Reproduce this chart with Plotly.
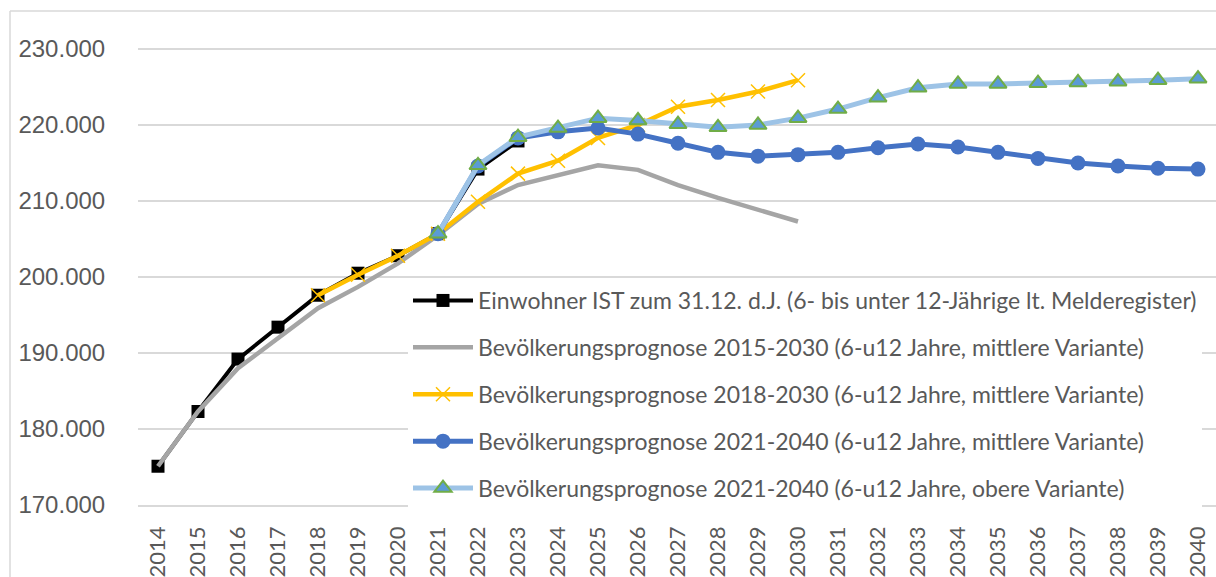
import plotly.graph_objects as go

years = list(range(2014, 2041))

ist_years = list(range(2014, 2024))
ist_vals = [175100, 182300, 189200, 193400, 197600, 200500, 202800, 205700, 214200, 217900]

p2015_years = list(range(2014, 2031))
p2015_vals = [175100, 182300, 188000, 191900, 195900, 198700, 201800, 205500, 209600, 212100,
              213400, 214700, 214100, 212100, 210400, 208800, 207300]

p2018_years = list(range(2018, 2031))
p2018_vals = [197600, 200300, 202800, 205700, 209900, 213600, 215300, 218300, 220000, 222400,
              223300, 224400, 225900]

p2021m_years = list(range(2021, 2041))
p2021m_vals = [205700, 214600, 218300, 219100, 219600, 218800, 217600, 216400, 215900, 216100,
               216400, 217000, 217500, 217100, 216400, 215600, 215000, 214600, 214300, 214200]

p2021o_years = list(range(2021, 2041))
p2021o_vals = [205700, 214700, 218400, 219600, 220900, 220600, 220100, 219700, 220000, 220900,
               222100, 223600, 224900, 225400, 225400, 225500, 225600, 225700, 225900, 226100]

names = [
    "Einwohner IST zum 31.12. d.J. (6- bis unter 12-Jährige lt. Melderegister)",
    "Bevölkerungsprognose 2015-2030 (6-u12 Jahre, mittlere Variante)",
    "Bevölkerungsprognose 2018-2030 (6-u12 Jahre, mittlere Variante)",
    "Bevölkerungsprognose 2021-2040 (6-u12 Jahre, mittlere Variante)",
    "Bevölkerungsprognose 2021-2040 (6-u12 Jahre, obere Variante)",
]

y_ticks = [170000, 180000, 190000, 200000, 210000, 220000, 230000]
y_ticktext = ["170.000", "180.000", "190.000", "200.000", "210.000", "220.000", "230.000"]

fig = go.Figure()
fig.add_trace(go.Scatter(x=ist_years, y=ist_vals, name=names[0], mode="lines+markers",
                         line=dict(color="#000000", width=4),
                         marker=dict(symbol="square", size=13, color="#000000"),
                         legendgroup="a"))
fig.add_trace(go.Scatter(x=p2015_years, y=p2015_vals, name=names[1], mode="lines",
                         line=dict(color="#a5a5a5", width=4.5), legendgroup="b"))
fig.add_trace(go.Scatter(x=p2018_years, y=p2018_vals, name=names[2], mode="lines+markers",
                         line=dict(color="#ffc000", width=4.5),
                         marker=dict(symbol="x-thin", size=14, color="#ffc000",
                                     line=dict(color="#ffc000", width=1.5)),
                         legendgroup="c"))
fig.add_trace(go.Scatter(x=p2021m_years, y=p2021m_vals, name=names[3], mode="lines+markers",
                         line=dict(color="#4472c4", width=5),
                         marker=dict(symbol="circle", size=15, color="#4472c4"),
                         legendgroup="d"))
fig.add_trace(go.Scatter(x=p2021o_years, y=p2021o_vals, name=names[4], mode="lines+markers",
                         line=dict(color="#9dc3e6", width=5),
                         marker=dict(symbol="triangle-up", size=15, color="#5b9bd5",
                                     line=dict(color="#70ad47", width=2)),
                         legendgroup="e"))

W, H = 1216, 577
L, R, T, B = 138, 0, 11, 72
pw = W - L - R
ph = H - T - B

fig.update_layout(
    width=W, height=H,
    margin=dict(l=L, r=R, t=T, b=B, autoexpand=False),
    paper_bgcolor="white", plot_bgcolor="white",
    showlegend=True,
    legend=dict(x=(408 - L) / pw, xanchor="left", y=(H - B - 279) / ph, yanchor="top",
                bgcolor="white", borderwidth=0, tracegroupgap=14, itemwidth=60,
                font=dict(family="Lato", size=23, color="#595959"),
                traceorder="grouped"),
    xaxis=dict(range=[2013.5, 2013.5 + pw / 40.0], tickvals=years, ticktext=[str(y) for y in years],
               tickangle=-90, showgrid=False, zeroline=False, automargin=False,
               showline=True, linecolor="#d9d9d9", linewidth=1.5,
               ticks="outside", ticklen=11, tickcolor="rgba(0,0,0,0)",
               tickfont=dict(family="Lato", size=22, color="#595959")),
    yaxis=dict(range=[170000, 235000], tickvals=y_ticks, ticktext=y_ticktext,
               showgrid=True, gridcolor="#d9d9d9", gridwidth=1.5, zeroline=False, automargin=False,
               ticks="outside", ticklen=27, tickcolor="rgba(0,0,0,0)",
               tickfont=dict(family="Liberation Sans", size=24, color="#595959")),
    shapes=[
        dict(type="line", xref="paper", yref="paper", x0=(10 - L) / pw, x1=1.0, y0=1.0, y1=1.0,
             line=dict(color="#d9d9d9", width=1.5)),
        dict(type="line", xref="paper", yref="paper", x0=(10 - L) / pw, x1=(10 - L) / pw,
             y0=1.0, y1=-B / ph - 0.01, line=dict(color="#d9d9d9", width=1.5)),
    ],
)

fig.write_html("out.html", config={"displayModeBar": False},
               post_script="document.body.style.margin='0';document.body.style.overflow='hidden';")
